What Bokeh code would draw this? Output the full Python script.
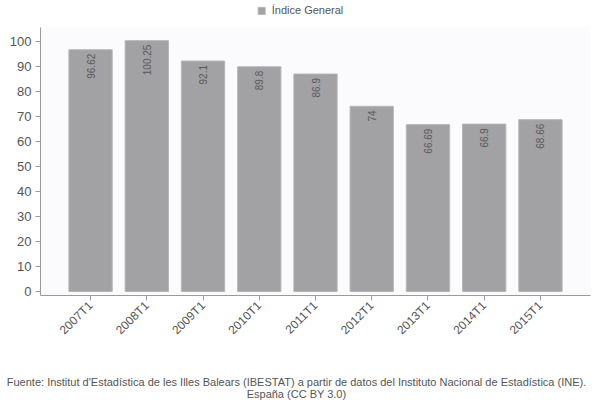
import math
from bokeh.plotting import figure
from bokeh.models import (ColumnDataSource, FactorRange, Range1d, FixedTicker,
                          Legend, LegendItem, Label)
from bokeh.core.properties import value
from bokeh.embed import file_html
from bokeh.resources import INLINE

categories = ["2007T1", "2008T1", "2009T1", "2010T1", "2011T1",
              "2012T1", "2013T1", "2014T1", "2015T1"]
values = [96.62, 100.25, 92.1, 89.8, 86.9, 74, 66.69, 66.9, 68.66]
labels = ["96.62", "100.25", "92.1", "89.8", "86.9", "74", "66.69", "66.9", "68.66"]
y_ticks = [0, 10, 20, 30, 40, 50, 60, 70, 80, 90, 100]
series_name = "Índice General"
footer1 = ("Fuente: Institut d'Estadística de les Illes Balears (IBESTAT) a partir de datos "
           "del Instituto Nacional de Estadística (INE).")
footer2 = "España (CC BY 3.0)"

FONT = "Liberation Sans"
BAR = "#a2a1a4"
BAR_EDGE = "#b6b5b8"
TXT = "#555555"
W = 600

src = ColumnDataSource(dict(x=categories, top=values, label=labels,
                            ly=[v - 1.6 for v in values]))

# ---- top strip with the legend ----
top = figure(width=W, height=27, output_backend="svg", toolbar_location=None,
             x_axis_type=None, y_axis_type=None,
             x_range=FactorRange(factors=categories), y_range=Range1d(0, 1),
             min_border_left=0, min_border_right=0, min_border_top=0,
             min_border_bottom=7)
top.outline_line_color = None
top.background_fill_color = "white"
# legend key: same bar glyph, hidden in this strip
leg_r = top.vbar(x="x", top="top", width=0.77, source=src,
                 fill_color=BAR, line_color=BAR_EDGE)
leg_r.visible = False
legend = Legend(items=[LegendItem(label=series_name, renderers=[leg_r])],
                orientation="horizontal", location="center",
                glyph_width=9, glyph_height=9, label_text_font=FONT,
                label_text_font_size="11px", label_text_color=TXT,
                label_height=12, border_line_color=None, background_fill_alpha=0,
                inactive_fill_alpha=0,
                padding=0, margin=0, label_standoff=6)
top.add_layout(legend, "center")

# ---- main chart ----
p = figure(width=W, height=318, output_backend="svg", toolbar_location=None,
           x_range=FactorRange(factors=categories, range_padding=0.39,
                               range_padding_units="absolute"),
           y_range=Range1d(-1.6, 105.5),
           min_border_left=40, min_border_right=10, min_border_top=0,
           min_border_bottom=45)
p.background_fill_color = "#fbfafc"
p.border_fill_color = "white"
p.outline_line_color = None
p.xgrid.grid_line_color = None
p.ygrid.grid_line_color = None

p.vbar(x="x", top="top", bottom=0, width=0.77, source=src,
       fill_color=BAR, line_color=BAR_EDGE, line_width=1)

p.text(x="x", y="ly", text="label", source=src, angle=math.pi / 2,
       text_align="right", text_baseline="middle",
       text_font=value(FONT), text_font_size="10px", text_color="#5a5a5a")

p.yaxis.ticker = FixedTicker(ticks=y_ticks)
p.yaxis.minor_tick_line_color = None
p.yaxis.major_tick_out = 5
p.yaxis.major_tick_in = 0
p.yaxis.axis_line_color = "#9a9a9a"
p.yaxis.major_tick_line_color = "#9a9a9a"
p.yaxis.major_label_text_font = FONT
p.yaxis.major_label_text_font_size = "13px"
p.yaxis.major_label_text_color = TXT
p.yaxis.major_label_standoff = 4

p.xaxis.major_label_orientation = math.pi / 4
p.xaxis.major_tick_out = 5
p.xaxis.major_tick_in = 0
p.xaxis.axis_line_color = "#9a9a9a"
p.xaxis.major_tick_line_color = "#9a9a9a"
p.xaxis.major_label_text_font = FONT
p.xaxis.major_label_text_font_size = "12px"
p.xaxis.major_label_text_color = TXT
p.xaxis.major_label_standoff = 3

# ---- footer strip ----
FH = 55
foot = figure(width=W, height=FH, output_backend="svg", toolbar_location=None,
              x_axis_type=None, y_axis_type=None,
              x_range=Range1d(0, W), y_range=Range1d(FH, 0),
              min_border_left=0, min_border_right=0, min_border_top=0,
              min_border_bottom=0)
foot.outline_line_color = None
foot.background_fill_color = "white"
for txt, yy in ((footer1, 36), (footer2, 48)):
    foot.add_layout(Label(x=296, y=yy, text=txt, text_align="center",
                          text_baseline="middle", text_font=FONT,
                          text_font_size="11px", text_color=TXT))

open("out.html", "w").write(file_html([top, p, foot], INLINE))
